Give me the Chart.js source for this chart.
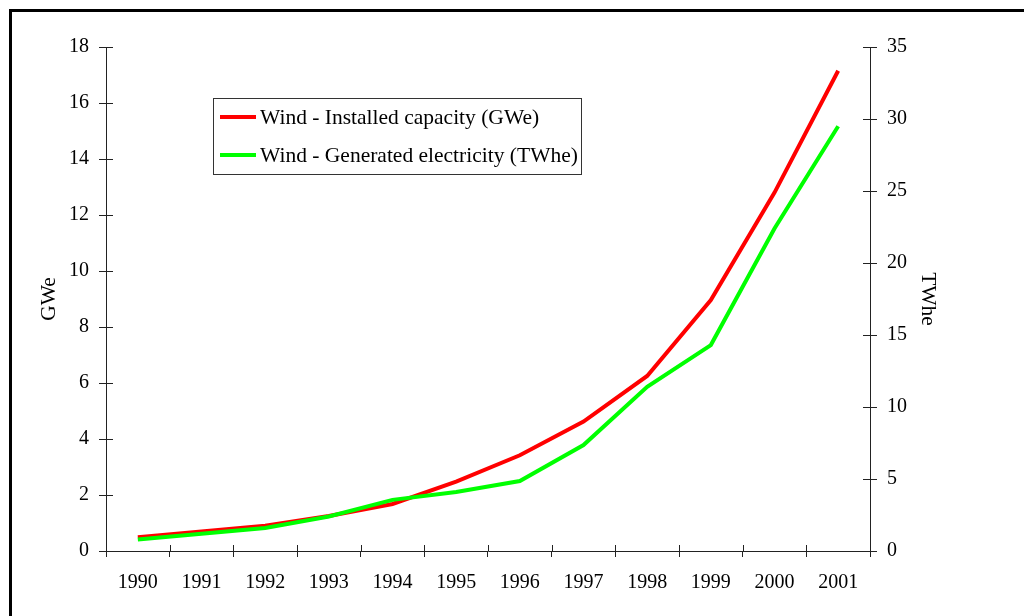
<!DOCTYPE html>
<html>
<head>
<meta charset="utf-8">
<script src="https://cdn.jsdelivr.net/npm/chart.js@4/dist/chart.umd.min.js"></script>
<style>
  body { margin: 0; background: #fff; }
  #grafico { display: block; }
</style>
</head>
<body>
<canvas id="grafico" width="1024" height="616"></canvas>
<script>
// years on the x axis
const anios = ['1990', '1991', '1992', '1993', '1994', '1995', '1996', '1997', '1998', '1999', '2000', '2001'];

// installed capacity, GWe (left axis)
const capacidad = [0.49, 0.70, 0.90, 1.25, 1.68, 2.48, 3.42, 4.62, 6.25, 8.96, 12.8, 17.15];

// generated electricity, TWhe (right axis)
const generacion = [0.8, 1.2, 1.6, 2.4, 3.55, 4.1, 4.86, 7.36, 11.4, 14.3, 22.4, 29.5];

const nombreCapacidad = 'Wind - Installed capacity (GWe)';
const nombreGeneracion = 'Wind - Generated electricity (TWhe)';

const fuente = 'Liberation Serif, Times New Roman, serif';
const colorEje = '#222';

// frame along top and left edge
const marco = {
  id: 'marco',
  beforeDraw(chart) {
    const ctx = chart.ctx;
    ctx.save();
    ctx.fillStyle = '#fff';
    ctx.fillRect(0, 0, chart.width, chart.height);
    ctx.strokeStyle = '#000';
    ctx.lineWidth = 3;
    ctx.beginPath();
    ctx.moveTo(10.5, chart.height);
    ctx.lineTo(10.5, 10.5);
    ctx.lineTo(chart.width, 10.5);
    ctx.stroke();
    ctx.restore();
  }
};

// inner half of the tick marks, so they cross the axis line
const marcasInternas = {
  id: 'marcasInternas',
  afterDraw(chart) {
    const ctx = chart.ctx;
    const y = chart.scales.y, y2 = chart.scales.y2, x = chart.scales.x;
    ctx.save();
    ctx.strokeStyle = colorEje;
    ctx.lineWidth = 1;
    ctx.beginPath();
    y.ticks.forEach(t => {
      const py = Math.round(y.getPixelForValue(t.value)) + 0.5;
      ctx.moveTo(y.right, py);
      ctx.lineTo(y.right + 7, py);
    });
    y2.ticks.forEach(t => {
      const py = Math.round(y2.getPixelForValue(t.value)) + 0.5;
      ctx.moveTo(y2.left - 7, py);
      ctx.lineTo(y2.left, py);
    });
    const paso = (x.right - x.left) / anios.length;
    for (let i = 0; i <= anios.length; i++) {
      const px = Math.round(x.left + i * paso) + 0.5;
      ctx.moveTo(px, x.top - 6);
      ctx.lineTo(px, x.top);
    }
    ctx.stroke();
    ctx.restore();
  }
};

// boxed legend inside the plot area
const leyenda = {
  id: 'leyenda',
  afterDraw(chart) {
    const ctx = chart.ctx;
    const x0 = 213, y0 = 98, ancho = 368, alto = 76;
    ctx.save();
    ctx.fillStyle = '#fff';
    ctx.fillRect(x0, y0, ancho, alto);
    ctx.strokeStyle = '#333';
    ctx.lineWidth = 1;
    ctx.strokeRect(x0 + 0.5, y0 + 0.5, ancho, alto);
    ctx.font = '21.5px ' + fuente;
    ctx.textBaseline = 'middle';
    chart.data.datasets.forEach((ds, i) => {
      const yy = y0 + 19 + i * 38;
      ctx.strokeStyle = ds.borderColor;
      ctx.lineWidth = 4;
      ctx.beginPath();
      ctx.moveTo(x0 + 7, yy);
      ctx.lineTo(x0 + 43, yy);
      ctx.stroke();
      ctx.fillStyle = '#000';
      ctx.fillText(ds.label, x0 + 47, yy + 1);
    });
    ctx.restore();
  }
};

const data = {
  labels: anios,
  datasets: [{
    label: nombreCapacidad,
    data: capacidad,
    borderColor: '#ff0000',
    yAxisID: 'y',
    order: 1
  },
  {
    label: nombreGeneracion,
    data: generacion,
    borderColor: '#00ff00',
    yAxisID: 'y2',
    order: 0
  }]
};

const config = {
  type: 'line',
  data: data,
  options: {
    responsive: false,
    animation: false,
    layout: { padding: { left: 0, right: 0, top: 47, bottom: 0 } },
    elements: {
      line: { borderWidth: 4, tension: 0, fill: false },
      point: { radius: 0 }
    },
    plugins: {
      legend: { display: false },
      tooltip: { enabled: false }
    },
    scales: {
      x: {
        offset: true,
        grid: { offset: true, drawOnChartArea: false, tickLength: 6, color: colorEje },
        border: { color: colorEje },
        ticks: { color: '#000', font: { family: fuente, size: 20 }, padding: 14, maxRotation: 0 },
        afterFit: s => { s.height = 65; }
      },
      y: {
        position: 'left',
        min: 0, max: 18,
        grid: { drawOnChartArea: false, tickLength: 7, color: colorEje },
        border: { color: colorEje },
        ticks: { stepSize: 2, color: '#000', font: { family: fuente, size: 20 }, padding: 10 },
        title: { display: true, text: 'GWe', color: '#000', font: { family: fuente, size: 21.5 }, padding: { top: 36, bottom: 0 } },
        afterFit: s => { s.width = 106; }
      },
      y2: {
        position: 'right',
        min: 0, max: 35,
        grid: { drawOnChartArea: false, tickLength: 7, color: colorEje },
        border: { color: colorEje },
        ticks: { stepSize: 5, color: '#000', font: { family: fuente, size: 20 }, padding: 10 },
        title: { display: true, text: 'TWhe', color: '#000', font: { family: fuente, size: 21.5 }, padding: { top: 83, bottom: 0 } },
        afterFit: s => { s.width = 154; }
      }
    }
  },
  plugins: [marco, marcasInternas, leyenda]
};

new Chart(document.getElementById('grafico'), config);
</script>
</body>
</html>
